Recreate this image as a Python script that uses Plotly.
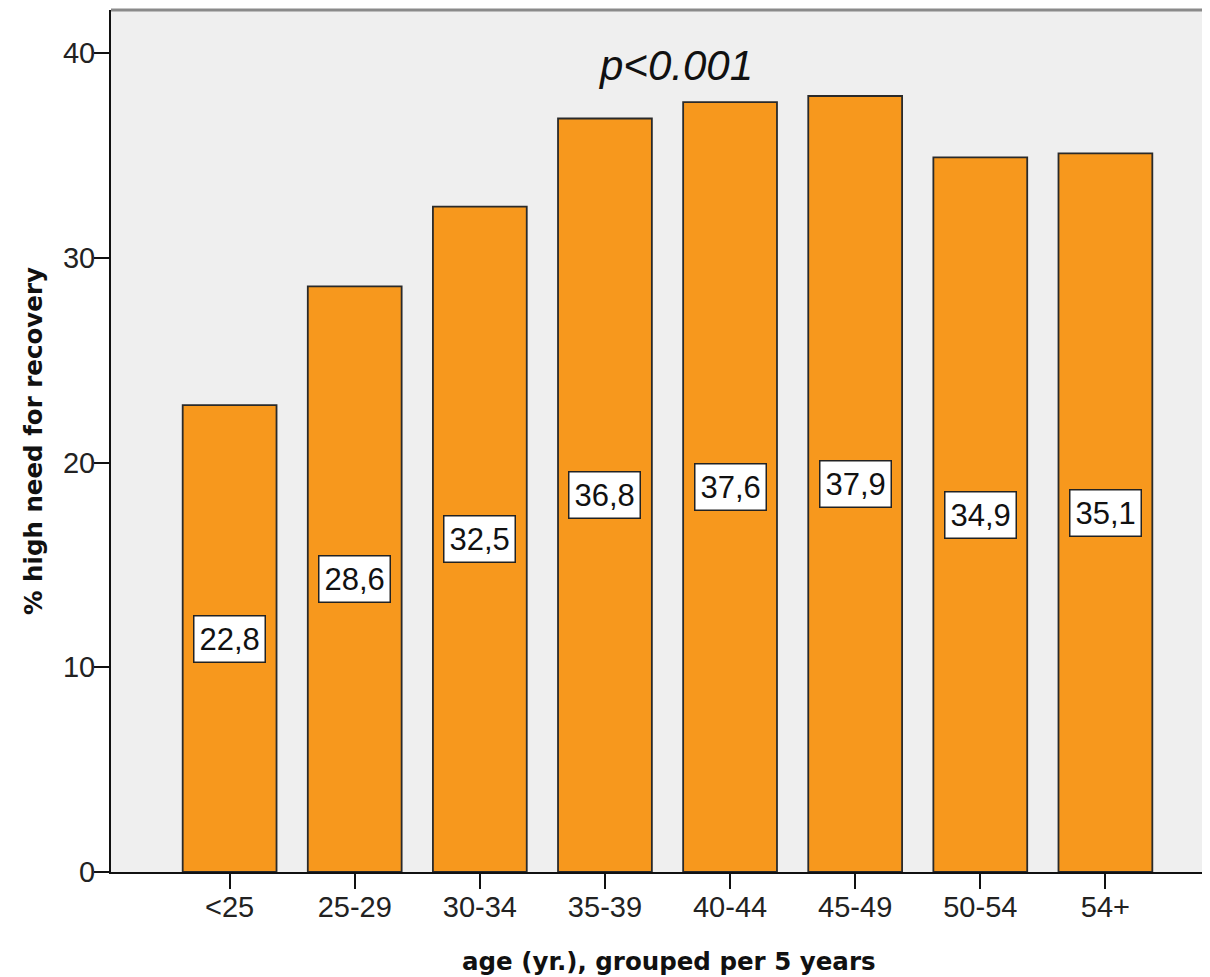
import plotly.graph_objects as go

categories = ["<25", "25-29", "30-34", "35-39", "40-44", "45-49", "50-54", "54+"]
values = [22.8, 28.6, 32.5, 36.8, 37.6, 37.9, 34.9, 35.1]
value_labels = ["22,8", "28,6", "32,5", "36,8", "37,6", "37,9", "34,9", "35,1"]
y_ticks = [0, 10, 20, 30, 40]

FONT = "Liberation Sans, Arial, sans-serif"
BOLD_FONT = "DejaVu Sans, Verdana, sans-serif"
xs = list(range(len(categories)))

fig = go.Figure()
fig.add_trace(go.Bar(
    x=xs, y=values, width=0.75,
    marker=dict(color="#F7981D", line=dict(color="#2a2a2a", width=1.8)),
    hoverinfo="skip",
))

for x, v, lab in zip(xs, values, value_labels):
    fig.add_annotation(
        x=x, y=v / 2, xref="x", yref="y", text=lab, showarrow=False,
        font=dict(family=FONT, size=31, color="#111111"),
        bgcolor="white", bordercolor="#222222", borderwidth=1.5, borderpad=5,
    )

fig.add_annotation(
    x=3.56, y=39.4, xref="x", yref="y", text="<i>p<0.001</i>", showarrow=False,
    font=dict(family=FONT, size=42, color="#111111"),
)

fig.add_annotation(
    x=0, y=0.5, xref="paper", yref="paper", xanchor="center", yanchor="middle",
    xshift=-78, textangle=-90,
    text="<b>% high need for recovery</b>", showarrow=False,
    font=dict(family=BOLD_FONT, size=24.5, color="#111111"),
)
fig.add_annotation(
    x=0.508, y=0, xref="paper", yref="paper", xanchor="center", yanchor="middle",
    yshift=-89,
    text="<b>age (yr.), grouped per 5 years</b>", showarrow=False,
    font=dict(family=BOLD_FONT, size=24.5, color="#111111"),
)

# top border of the plot frame
fig.add_shape(type="line", xref="paper", yref="paper", x0=0, x1=1, y0=1, y1=1,
              line=dict(color="#8a8a8a", width=3))

fig.update_layout(
    width=1202, height=969,
    margin=dict(l=103, r=0, t=2, b=105),
    paper_bgcolor="white", plot_bgcolor="#EFEFEF",
    showlegend=False,
    font=dict(family=FONT, color="#222222"),
)
fig.update_xaxes(
    range=[-0.948, 7.836], tickmode="array", tickvals=xs, ticktext=categories,
    showgrid=False, zeroline=False, showline=True, linecolor="#111111", linewidth=2,
    ticks="outside", ticklen=15, tickwidth=2, tickcolor="#111111",
    ticklabelstandoff=-7,
    tickfont=dict(family=FONT, size=29, color="#222222"),
)
fig.update_yaxes(
    range=[0, 42.1], tickmode="array", tickvals=y_ticks,
    showgrid=False, zeroline=False, showline=True, linecolor="#111111", linewidth=2,
    ticks="outside", ticklen=15, tickwidth=2, tickcolor="#111111",
    ticklabelstandoff=-7,
    tickfont=dict(family=FONT, size=29, color="#222222"),
)

fig.write_html("out.html")
